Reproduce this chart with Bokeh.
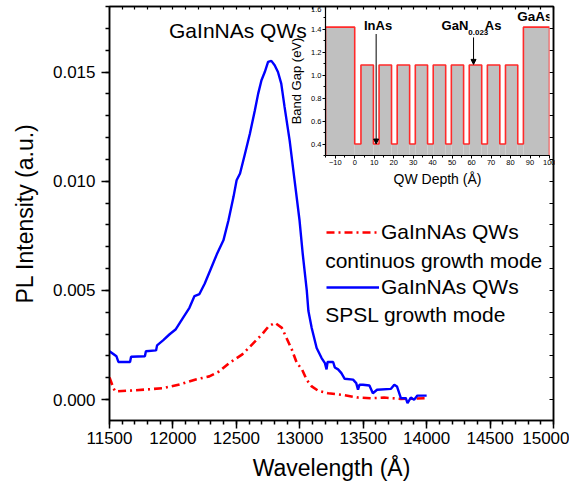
import numpy as np
from bokeh.plotting import figure
from bokeh.models import (Range1d, FixedTicker, LinearAxis, Legend, LegendItem,
                          Label, Arrow, NormalHead, PrintfTickFormatter)
from bokeh.layouts import column
from bokeh.embed import file_html
from bokeh.resources import INLINE

FONT = "Liberation Sans"

# ---------------- main chart data ----------------
blue_wl = [11500, 11555, 11570, 11662, 11670, 11779, 11787, 11867, 11875, 11922,
           11974, 12023, 12078, 12130, 12170, 12209, 12250, 12300, 12346, 12398,
           12438, 12477, 12502, 12529, 12568, 12607, 12646, 12672, 12698, 12724,
           12750, 12776, 12802, 12828, 12854, 12880, 12920, 12959, 12998, 13023,
           13055, 13068, 13094, 13133, 13172, 13198, 13211, 13219, 13263, 13276,
           13302, 13328, 13354, 13420, 13445, 13459, 13471, 13498, 13549, 13576,
           13609, 13719, 13745, 13766, 13797, 13836, 13849, 13875, 13901, 13927,
           14000]
blue_int = [0.00221, 0.00198, 0.00172, 0.00172, 0.00196, 0.00198, 0.00221, 0.00225, 0.00248, 0.00271,
            0.00299, 0.00322, 0.00373, 0.00420, 0.00474, 0.00483, 0.00530, 0.00600, 0.00665, 0.00729,
            0.00821, 0.00927, 0.01004, 0.01035, 0.01126, 0.01218, 0.01325, 0.01401, 0.01462, 0.01500,
            0.01546, 0.01551, 0.01531, 0.01500, 0.01447, 0.01340, 0.01187, 0.01004, 0.00821, 0.00668,
            0.00500, 0.00405, 0.00328, 0.00236, 0.00190, 0.00167, 0.00138, 0.00172, 0.00172, 0.00147,
            0.00138, 0.00121, 0.00095, 0.00091, 0.00075, 0.00045, 0.00068, 0.00068, 0.00064, 0.00029,
            0.00045, 0.00049, 0.00068, 0.00060, 0.00006, 0.00006, -0.00017, 0.00009, -0.00001, 0.00018,
            0.00018]

red_wl = [11500, 11531, 11545, 11662, 11789, 11922, 12052, 12180, 12287, 12365,
          12443, 12547, 12625, 12703, 12755, 12805, 12859, 12938, 12977, 13016,
          13055, 13094, 13146, 13224, 13328, 13459, 13563, 13664, 13797, 14000]
red_int = [0.00101, 0.00052, 0.00037, 0.00041, 0.00046, 0.00052, 0.00069, 0.00092, 0.00106, 0.00129,
           0.00167, 0.00207, 0.00253, 0.00299, 0.00336, 0.00351, 0.00328, 0.00228, 0.00167, 0.00140,
           0.00090, 0.00060, 0.00040, 0.00029, 0.00022, 0.00009, 0.00006, 0.00009, 0.00003, 0.00006]

x_ticks = [11500, 12000, 12500, 13000, 13500, 14000, 14500, 15000]
x_minor = list(range(11500, 15001, 100))
y_ticks = [0.000, 0.005, 0.010, 0.015]
y_minor = [round(-0.001 + 0.001 * i, 3) for i in range(20)]

series_labels = ["GaInNAs QWs", "GaInNAs QWs"]
series_sublabels = ["continuos growth mode", "SPSL growth mode"]
title_text = "GaInNAs QWs"

# ---------------- inset data ----------------
layer_edges = [-15, 0, 3.2, 9.6, 12.5, 18.9, 21.8, 28.2, 31.1, 37.4, 40.3,
               46.7, 49.6, 55.9, 58.8, 65.2, 68.1, 74.5, 77.4, 83.7, 86.6, 100]
layer_gaps = [1.42, 0.40, 1.09, 0.40, 1.09, 0.40, 1.09, 0.40, 1.09, 0.40, 1.09,
              0.40, 1.09, 0.40, 1.09, 0.40, 1.09, 0.40, 1.09, 0.40, 1.42]
inset_x_ticks = [-10, 0, 10, 20, 30, 40, 50, 60, 70, 80, 90, 100]
inset_x_minor = list(range(-15, 101, 5))
inset_y_ticks = [0.4, 0.6, 0.8, 1.0, 1.2, 1.4, 1.6]
inset_y_minor = [round(0.3 + 0.1 * i, 1) for i in range(14)]

# ---------------- main figure ----------------
p = figure(width=561, height=479, output_backend="svg", toolbar_location=None,
           x_range=Range1d(11500, 15000), y_range=Range1d(-0.00096, 0.018),
           min_border_left=97, min_border_right=16, min_border_top=1,
           min_border_bottom=64, frame_align=False)
p.grid.visible = False
p.outline_line_color = "black"
p.outline_line_width = 1.5
p.background_fill_color = "white"
p.border_fill_color = "white"

xa = p.xaxis[0]
xa.ticker = FixedTicker(ticks=x_ticks, minor_ticks=x_minor)
ya = p.yaxis[0]
ya.ticker = FixedTicker(ticks=y_ticks, minor_ticks=y_minor)
ya.formatter = PrintfTickFormatter(format="%.3f")
xa.axis_label = "Wavelength (Å)"
ya.axis_label = "PL Intensity (a.u.)"
for ax in (xa, ya):
    ax.axis_line_width = 1.5
    ax.major_tick_line_width = 1.5
    ax.minor_tick_line_width = 1.5
    ax.major_tick_in = 0
    ax.major_tick_out = 8
    ax.minor_tick_in = 0
    ax.minor_tick_out = 4
    ax.major_label_text_font = FONT
    ax.major_label_text_font_size = "17px"
    ax.major_label_text_color = "black"
    ax.axis_label_text_font = FONT
    ax.axis_label_text_font_size = "23px"
    ax.axis_label_text_font_style = "normal"
    ax.axis_label_text_color = "black"
xa.major_label_standoff = 3
xa.axis_label_standoff = 8
ya.major_label_standoff = 6
ya.axis_label_standoff = 12

right_ax = LinearAxis(ticker=FixedTicker(ticks=y_minor), major_label_text_font_size="1px",
                      major_label_text_color=None,
                      major_tick_in=4, major_tick_out=0, minor_tick_line_color=None,
                      axis_line_width=1.5, major_tick_line_width=1.2, major_label_standoff=0)
p.add_layout(right_ax, "right")
top_ax = LinearAxis(ticker=FixedTicker(ticks=x_minor), major_label_text_font_size="1px",
                    major_label_text_color=None,
                    major_tick_in=3, major_tick_out=0, minor_tick_line_color=None,
                    axis_line_width=1.5, major_tick_line_width=1.2, major_label_standoff=0)
p.add_layout(top_ax, "above")

r_red = p.line(red_wl, red_int, line_color="#ff0000", line_width=2.6, line_dash="8 4 2 4")
r_blue = p.line(blue_wl, blue_int, line_color="#0000ff", line_width=2.4)

legend = Legend(items=[LegendItem(label=series_labels[0], renderers=[r_red]),
                       LegendItem(label=series_labels[1], renderers=[r_blue])],
                location=(217, 120), padding=0, margin=0, spacing=29,
                label_height=26, glyph_height=26, glyph_width=53, label_standoff=2,
                label_text_font=FONT, label_text_font_size="21px",
                label_text_color="black",
                border_line_color=None, background_fill_alpha=0)
p.add_layout(legend, "center")

for txt, yv in zip(series_sublabels, [0.00636, 0.00389]):
    p.add_layout(Label(x=13200, y=yv, text=txt, text_font=FONT, text_font_size="21px",
                       text_align="left", text_baseline="middle", text_color="black"))

p.add_layout(Label(x=12512, y=0.01692, text=title_text, text_font=FONT, text_font_size="21px",
                   text_align="center", text_baseline="middle", text_color="black"))

# ---------------- inset figure ----------------
ins = figure(width=269, height=186, output_backend="svg", toolbar_location=None,
             x_range=Range1d(-15, 100), y_range=Range1d(0.3, 1.6),
             min_border_left=36, min_border_right=6, min_border_top=0,
             min_border_bottom=37, frame_align=False)
ins.grid.visible = False
ins.outline_line_color = None
ins.background_fill_alpha = 0
ins.border_fill_alpha = 0

ins.quad(left=layer_edges[:-1], right=layer_edges[1:], bottom=0.3, top=layer_gaps,
         fill_color="#c0c0c0", line_color=None)
path_x = [layer_edges[0]]
path_y = [0.3]
for i, g in enumerate(layer_gaps):
    path_x += [layer_edges[i], layer_edges[i + 1]]
    path_y += [g, g]
path_x.append(layer_edges[-1])
path_y.append(0.3)
ins.line(path_x, path_y, line_color="#ff2a2a", line_width=1.6)

ixa = ins.xaxis[0]
ixa.ticker = FixedTicker(ticks=inset_x_ticks, minor_ticks=inset_x_minor)
iya = ins.yaxis[0]
iya.ticker = FixedTicker(ticks=inset_y_ticks, minor_ticks=inset_y_minor)
iya.formatter = PrintfTickFormatter(format="%.1f")
ixa.axis_label = "QW Depth (Å)"
iya.axis_label = "Band Gap (eV)"
for ax in (ixa, iya):
    ax.axis_line_width = 1.2
    ax.major_tick_in = 0
    ax.major_tick_out = 3
    ax.minor_tick_in = 0
    ax.minor_tick_out = 2
    ax.major_label_text_font = FONT
    ax.major_label_text_font_size = "7.5px"
    ax.major_label_text_color = "black"
    ax.major_label_standoff = 1
    ax.axis_label_text_font = FONT
    ax.axis_label_text_font_style = "normal"
    ax.axis_label_text_color = "black"
ixa.axis_label_text_font_size = "14px"
iya.axis_label_text_font_size = "13px"
ixa.axis_label_standoff = 3
iya.axis_label_standoff = 4

def blabel(x, y, t, size="13px", align="center"):
    ins.add_layout(Label(x=x, y=y, text=t, text_font=FONT, text_font_size=size,
                         text_font_style="bold", text_align=align,
                         text_baseline="middle", text_color="black"))

blabel(12.0, 1.43, "InAs")
blabel(44.6, 1.43, "GaN", align="left")
blabel(58.3, 1.375, "0.023", size="8px", align="left")
blabel(66.8, 1.43, "As", align="left")
blabel(92.5, 1.515, "GaAs", size="13.5px")

ins.add_layout(Arrow(end=NormalHead(size=5, line_color="black", fill_color="black"),
                     x_start=11, y_start=1.36, x_end=11, y_end=0.40,
                     line_color="black", line_width=1))
ins.add_layout(Arrow(end=NormalHead(size=5, line_color="black", fill_color="black"),
                     x_start=61, y_start=1.33, x_end=61, y_end=1.095,
                     line_color="black", line_width=1))

ins.styles = {"position": "absolute", "left": "278px", "top": "1px", "z-index": "5"}

lay = column(p, ins, width=561, height=479)
lay.styles = {"position": "absolute", "left": "8px", "top": "5px"}
open("out.html", "w").write(file_html(lay, INLINE))
